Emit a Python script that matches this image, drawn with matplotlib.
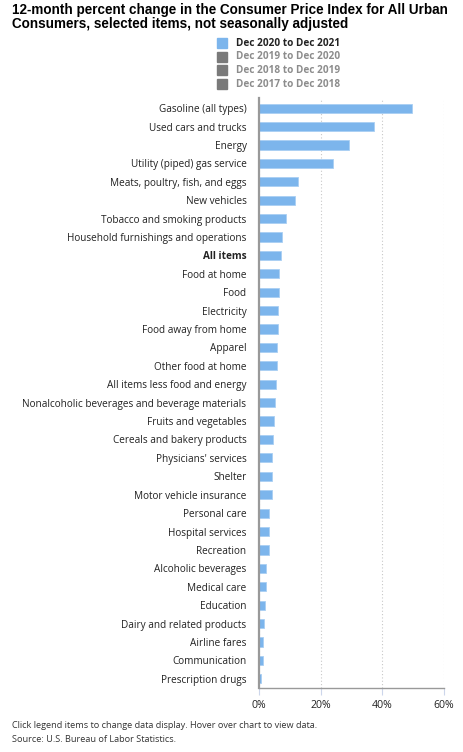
import matplotlib.pyplot as plt
from matplotlib.patches import Rectangle

# Items and Dec 2020 - Dec 2021 percent changes
items = [
    'Gasoline (all types)', 'Used cars and trucks', 'Energy',
    'Utility (piped) gas service', 'Meats, poultry, fish, and eggs',
    'New vehicles', 'Tobacco and smoking products',
    'Household furnishings and operations', 'All items', 'Food at home',
    'Food', 'Electricity', 'Food away from home', 'Apparel',
    'Other food at home', 'All items less food and energy',
    'Nonalcoholic beverages and beverage materials', 'Fruits and vegetables',
    'Cereals and bakery products', "Physicians' services", 'Shelter',
    'Motor vehicle insurance', 'Personal care', 'Hospital services',
    'Recreation', 'Alcoholic beverages', 'Medical care', 'Education',
    'Dairy and related products', 'Airline fares', 'Communication',
    'Prescription drugs',
]
change_2021 = [
    49.6, 37.3, 29.3, 24.1, 12.5, 11.8, 8.8, 7.3, 7.0, 6.6,
    6.4, 6.3, 6.0, 5.8, 5.7, 5.5, 5.1, 5.0, 4.6, 4.3, 4.1,
    4.1, 3.4, 3.1, 3.1, 2.2, 2.2, 1.8, 1.5, 1.2, 1.2, 0.5,
]
legend_labels = ['Dec 2020 to Dec 2021', 'Dec 2019 to Dec 2020',
                 'Dec 2018 to Dec 2019', 'Dec 2017 to Dec 2018']
xticks = [0, 20, 40, 60]

W, H = 463, 752
fig = plt.figure(figsize=(W / 100, H / 100), dpi=100)

ax = fig.add_axes([259 / W, 1 - 688 / H, (444 - 259) / W, (688 - 98) / H])
pos = list(range(len(items)))
ax.barh(pos, change_2021, height=0.5, color='#7cb5ec',
        edgecolor='#a9cff3', linewidth=0.6)
ax.set_xlim(0, 60)
ax.set_ylim(len(items) - 0.5, -0.55)

ax.set_yticks(pos)
ax.set_yticklabels(items, fontsize=7.2, family='Open Sans', color='#222222')
for lab in ax.get_yticklabels():
    if lab.get_text() == 'All items':
        lab.set_fontweight('bold')
ax.tick_params(axis='y', length=0, pad=9)

ax.set_xticks(xticks)
ax.set_xticklabels([f'{v}%' for v in xticks], fontsize=7.6,
                   family='Open Sans', color='#222222')
ax.tick_params(axis='x', length=5, color='#ccd6eb', pad=4)

ax.grid(axis='x', linestyle=(0, (1, 2)), color='#c8c8c8', linewidth=0.8)
ax.set_axisbelow(True)
for s in ['top', 'right']:
    ax.spines[s].set_visible(False)
ax.spines['left'].set_color('#999999')
ax.spines['left'].set_linewidth(1.6)
ax.spines['bottom'].set_color('#999999')
ax.spines['bottom'].set_linewidth(1.0)

# Title
fig.text(12 / W, 1 - 3 / H,
         '12-month percent change in the Consumer Price Index for All Urban\n'
         'Consumers, selected items, not seasonally adjusted',
         fontsize=9.75, fontweight='bold', family='Liberation Sans',
         va='top', ha='left', linespacing=1.0)

# Legend
leg_colors = ['#7cb5ec', '#7a7a7a', '#7a7a7a', '#7a7a7a']
leg_text = ['#222222', '#8c8c8c', '#8c8c8c', '#8c8c8c']
for i, lab in enumerate(legend_labels):
    y = 43 + i * 13.7
    fig.patches.append(Rectangle((217 / W, 1 - (y + 5) / H), 10 / W, 10 / H,
                                 transform=fig.transFigure, color=leg_colors[i]))
    fig.text(236 / W, 1 - y / H, lab, fontsize=7.2, fontweight='bold',
             family='Open Sans', color=leg_text[i], va='center', ha='left')

# Footer
fig.text(12 / W, 1 - 726 / H,
         'Click legend items to change data display. Hover over chart to view data.',
         fontsize=6.6, family='Open Sans', color='#333333', va='center')
fig.text(12 / W, 1 - 740 / H, 'Source: U.S. Bureau of Labor Statistics.',
         fontsize=6.6, family='Open Sans', color='#333333', va='center')

fig.savefig('out.png', dpi=100)
